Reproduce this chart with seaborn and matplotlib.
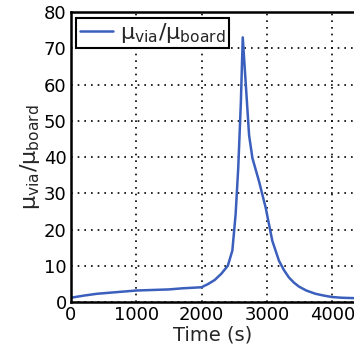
import pandas as pd
import matplotlib
matplotlib.use("Agg")
import matplotlib.pyplot as plt
import seaborn as sns

# values
time_s = [0, 200, 400, 800, 1000, 1500, 1700, 2000, 2100, 2200, 2300, 2400,
          2470, 2520, 2560, 2600, 2629, 2726, 2777, 2878, 2980, 3081, 3183,
          3260, 3335, 3410, 3487, 3600, 3741, 3870, 3995, 4150, 4330]
ratio = [1.2, 1.8, 2.3, 2.9, 3.2, 3.5, 3.8, 4.1, 5.0, 6.1, 7.8, 10.0,
         14.2, 24.2, 37.0, 55.0, 73.0, 46.0, 39.7, 33.3, 26.0, 16.9, 11.4,
         8.8, 6.8, 5.4, 4.3, 3.2, 2.3, 1.8, 1.4, 1.2, 1.1]
x_ticks = [0, 1000, 2000, 3000, 4000]
y_ticks = [0, 10, 20, 30, 40, 50, 60, 70, 80]

label = r"$\mu_{via}/\mu_{board}$"
df = pd.DataFrame({"Time (s)": time_s, label: ratio})

sns.set_style("white")
plt.rcParams["font.family"] = ["DejaVu Sans"]
plt.rcParams["mathtext.default"] = "regular"

fig = plt.figure(figsize=(3.54, 3.64), dpi=100)
ax = fig.add_axes([0.2, 0.17, 0.8, 0.797])

sns.lineplot(data=df, x="Time (s)", y=label, color="#3b5fbd", linewidth=1.8,
             label=label, ax=ax)

ax.set_xlim(0, 4330)
ax.set_ylim(0, 80)
ax.set_xticks(x_ticks)
ax.set_yticks(y_ticks)
ax.tick_params(labelsize=13, length=0, pad=3, colors="black")
ax.grid(True, color="black", linestyle=(0, (1, 3)), linewidth=1.2)
for side in ["left", "bottom", "top"]:
    ax.spines[side].set_color("black")
    ax.spines[side].set_linewidth(1.8)
ax.spines["right"].set_visible(False)
ax.set_xlabel("Time (s)", fontsize=14, labelpad=1)
ax.set_ylabel(label, fontsize=16, labelpad=1)

leg = ax.legend(loc="upper left", fontsize=16, frameon=True, fancybox=False,
                framealpha=1, edgecolor="black", handlelength=1.5,
                borderpad=0.15, borderaxespad=0.25, handletextpad=0.3)
leg.get_frame().set_linewidth(1.5)

fig.savefig("out.png", dpi=100)
